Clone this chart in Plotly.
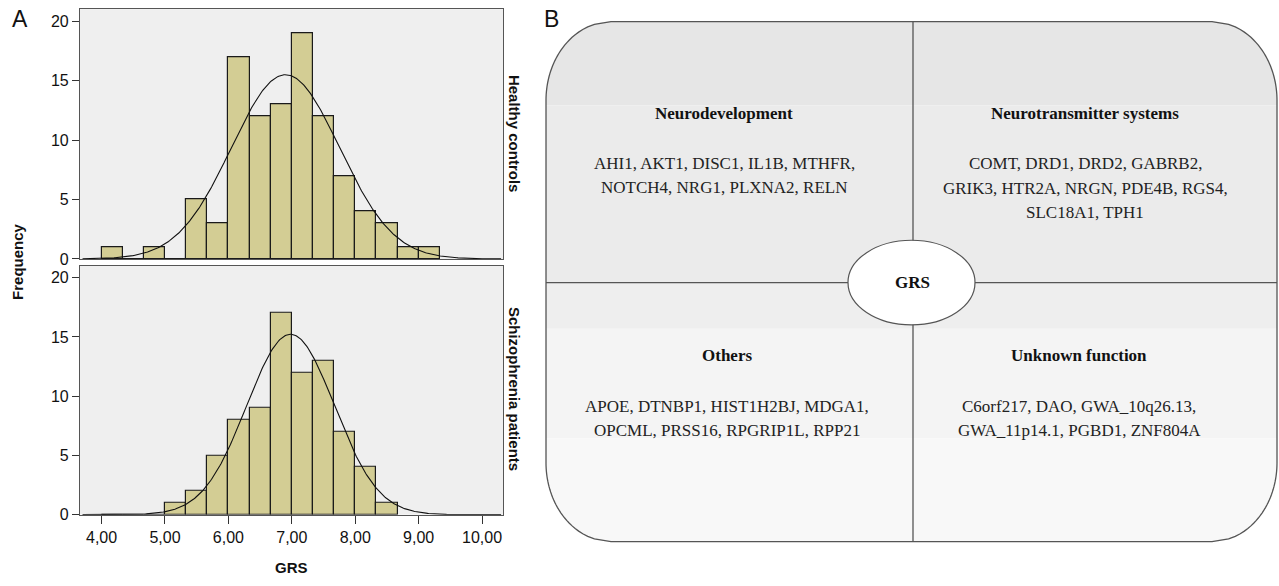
import numpy as np
import plotly.graph_objects as go

W, H = 1279, 586

# ---------------- data ----------------
bin_width = 1/3
hc_bin_left = [4.0 + i * bin_width for i in range(16)]
hc_counts = [1, 0, 1, 0, 5, 3, 17, 12, 13, 19, 12, 7, 4, 3, 1, 1]
sz_bin_left = [4.0 + i * bin_width for i in range(14)]
sz_counts = [0, 0, 0, 1, 2, 5, 8, 9, 17, 12, 13, 7, 4, 1]

hc_mean, hc_sd, hc_n = 6.90, 0.85, sum(hc_counts)
sz_mean, sz_sd, sz_n = 6.98, 0.69, sum(sz_counts)

x_ticks = [4, 5, 6, 7, 8, 9, 10]
x_ticklabels = ["4,00", "5,00", "6,00", "7,00", "8,00", "9,00", "10,00"]
y_ticks = [0, 5, 10, 15, 20]

quadrant_titles = ["Neurodevelopment", "Neurotransmitter systems", "Others", "Unknown function"]
quadrant_genes = [
    ["AHI1, AKT1, DISC1, IL1B, MTHFR,", "NOTCH4, NRG1, PLXNA2, RELN"],
    ["COMT, DRD1, DRD2, GABRB2,", "GRIK3, HTR2A, NRGN, PDE4B, RGS4,", "SLC18A1, TPH1"],
    ["APOE, DTNBP1, HIST1H2BJ, MDGA1,", "OPCML, PRSS16, RPGRIP1L, RPP21"],
    ["C6orf217, DAO, GWA_10q26.13,", "GWA_11p14.1, PGBD1, ZNF804A"],
]

# ---------------- helpers (reference pixel -> paper) ----------------
def px(x):
    return x / W

def py(y):
    return 1 - y / H

BAR = "#d3cd94"
fig = go.Figure()

def normal_curve(mean, sd, n):
    xs = np.linspace(3.7, 10.3, 400)
    ys = n * bin_width / (sd * np.sqrt(2 * np.pi)) * np.exp(-0.5 * ((xs - mean) / sd) ** 2)
    return xs, ys

for counts, lefts, mean, sd, n, xa, ya in [
    (hc_counts, hc_bin_left, hc_mean, hc_sd, hc_n, "x2", "y"),
    (sz_counts, sz_bin_left, sz_mean, sz_sd, sz_n, "x", "y2"),
]:
    centers = [l + bin_width / 2 for l in lefts]
    fig.add_trace(go.Bar(x=centers, y=counts, width=bin_width, xaxis=xa, yaxis=ya,
                         marker=dict(color=BAR, line=dict(color="#1a1a1a", width=1.2)),
                         showlegend=False, hoverinfo="skip"))
    xs, ys = normal_curve(mean, sd, n)
    fig.add_trace(go.Scatter(x=xs, y=ys, mode="lines", xaxis=xa, yaxis=ya,
                             line=dict(color="#111111", width=1.1),
                             showlegend=False, hoverinfo="skip"))

xdom = [px(80), px(503)]
axis_font = dict(family="Liberation Sans, Arial", size=16, color="#111")
common_y = dict(range=[0, 21.0], tickvals=y_ticks, ticks="outside", ticklen=7, tickwidth=1,
                tickcolor="#333", showgrid=False, zeroline=False, showline=True,
                linecolor="#555", linewidth=1.2, mirror=True, tickfont=axis_font)

fig.update_layout(
    width=W, height=H, margin=dict(l=0, r=0, t=0, b=0),
    paper_bgcolor="white", plot_bgcolor="#efefef", bargap=0,
    xaxis=dict(domain=xdom, range=[3.66, 10.33], anchor="y2", tickvals=x_ticks,
               ticktext=x_ticklabels, ticks="outside", ticklen=8, tickcolor="#333",
               showgrid=False, zeroline=False, showline=True, linecolor="#555",
               linewidth=1.2, mirror=True, tickfont=axis_font),
    xaxis2=dict(domain=xdom, range=[3.66, 10.33], anchor="y", matches="x",
                showticklabels=False, ticks="", showgrid=False, zeroline=False,
                showline=True, linecolor="#555", linewidth=1.2, mirror=True),
    yaxis=dict(domain=[py(263), py(9.3)], anchor="x2", **common_y),
    yaxis2=dict(domain=[py(522.7), py(270)], anchor="x", **common_y),
)

ann = []
def text(x, y, s, size=16, bold=False, family="Liberation Sans, Arial", angle=0, color="#111"):
    ann.append(dict(x=px(x), y=py(y), xref="paper", yref="paper", text=(f"<b>{s}</b>" if bold else s),
                    showarrow=False, textangle=angle, xanchor="center", yanchor="middle",
                    font=dict(family=family, size=size, color=color)))

text(20, 19, "A", size=23)
text(551, 19, "B", size=23)
text(18, 266, "Frequency", size=15, bold=True, angle=-90)
text(291, 576, "GRS", size=15, bold=True)
text(514, 136, "Healthy controls", size=15, bold=True, angle=90)
text(514, 395, "Schizophrenia patients", size=15, bold=True, angle=90)

# ---------------- right panel ----------------
X0, X1, Y0, Y1 = 546, 1277, 22, 550
RX, RY = 65, 80

def x_extent(y):
    if y < Y0 + RY:
        d = (Y0 + RY - y) / RY
    elif y > Y1 - RY:
        d = (y - (Y1 - RY)) / RY
    else:
        d = 0.0
    d = min(max(d, 0.0), 1.0)
    off = RX * (1 - np.sqrt(1 - d * d))
    return X0 + off, X1 - off

def slice_path(ya, yb, steps=60):
    ys = np.linspace(ya, yb, steps)
    left = [(x_extent(y)[0], y) for y in ys]
    right = [(x_extent(y)[1], y) for y in ys[::-1]]
    pts = left + right
    return "M " + " L ".join(f"{px(x):.5f},{py(y):.5f}" for x, y in pts) + " Z"

shapes = []
bands = [(Y0, 107, "#e6e6e6"), (107, 287, "#ebebeb"), (287, 334, "#eeeeee"),
         (334, 445, "#f4f4f4"), (445, Y1, "#f8f8f8")]
for ya, yb, c in bands:
    shapes.append(dict(type="path", path=slice_path(ya, yb), xref="paper", yref="paper",
                       fillcolor=c, line=dict(width=0), layer="below"))
shapes.append(dict(type="path", path=slice_path(Y0, Y1, 200), xref="paper", yref="paper",
                   fillcolor="rgba(0,0,0,0)", line=dict(color="#555", width=1.3)))
shapes.append(dict(type="line", x0=px(913), x1=px(913), y0=py(Y0), y1=py(Y1), xref="paper",
                   yref="paper", line=dict(color="#555", width=1.3)))
shapes.append(dict(type="line", x0=px(X0), x1=px(X1), y0=py(287), y1=py(287), xref="paper",
                   yref="paper", line=dict(color="#555", width=1.3)))
shapes.append(dict(type="circle", x0=px(848), x1=px(975), y0=py(330), y1=py(244), xref="paper",
                   yref="paper", fillcolor="white", line=dict(color="#555", width=1.2)))

serif = "Liberation Serif, Times New Roman"
centers = [(724, 115, [166, 190]), (1085, 115, [166, 191, 216]),
           (727, 361, [413, 437]), (1079, 361, [413, 437])]
for (cx, ty, lys), title, genes in zip(centers, quadrant_titles, quadrant_genes):
    text(cx, ty, title, size=17, bold=True, family=serif)
    for ly, g in zip(lys, genes):
        text(cx, ly, g, size=17, family=serif, color="#222")
text(912, 287, "GRS", size=17, bold=True, family=serif)

fig.update_layout(annotations=ann, shapes=shapes)
fig.write_html(
    "out.html",
    config={"displayModeBar": False},
    post_script="document.body.style.margin='0';document.body.style.overflow='hidden';"
                "document.documentElement.style.overflow='hidden';",
)
